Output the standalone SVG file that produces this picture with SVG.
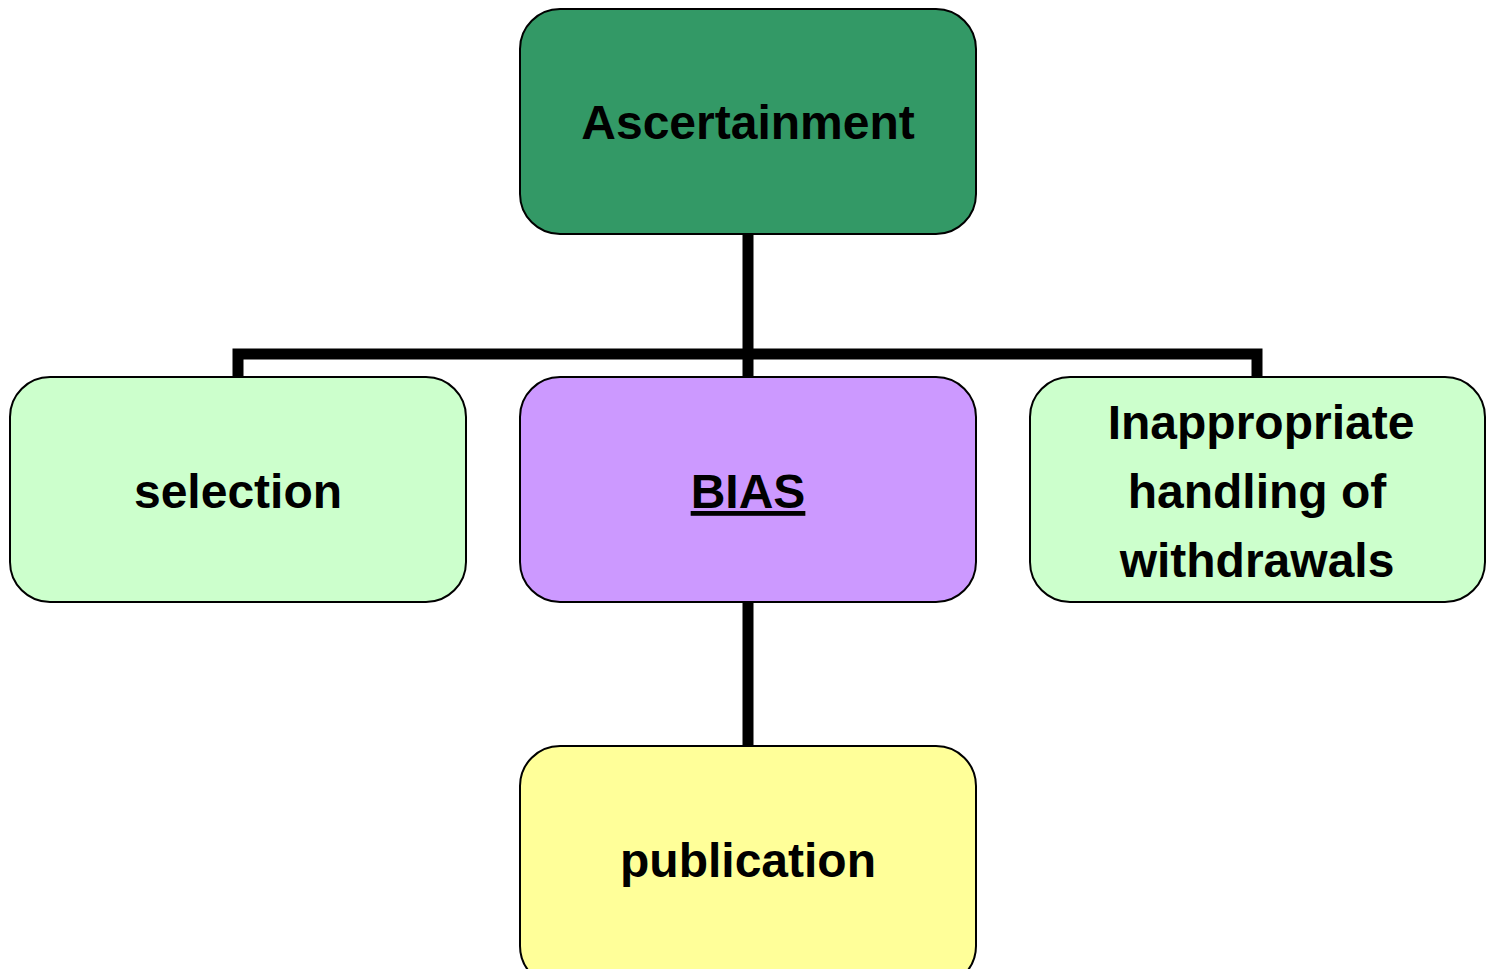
<svg xmlns="http://www.w3.org/2000/svg" width="1495" height="969" viewBox="0 0 1495 969">
<style>
.box{stroke:#000;stroke-width:2}
.lbl{font-family:"Liberation Sans",Arial,sans-serif;font-weight:bold;font-size:48px;fill:#000;text-anchor:middle}
.conn{stroke:#000;stroke-width:11;fill:none;stroke-linecap:butt}
</style>
<rect width="1495" height="969" fill="#fff"/>
<g id="connectors">
<path class="conn" d="M748 234V377"/>
<path class="conn" d="M238 377V354H1257V377"/>
<path class="conn" d="M748 602V746"/>
</g>
<g id="ascertainment">
<rect class="box" x="520" y="9" width="456" height="225" rx="40" fill="#339966"/>
<text class="lbl" x="748" y="139">Ascertainment</text>
</g>
<g id="selection">
<rect class="box" x="10" y="377" width="456" height="225" rx="40" fill="#CCFFCC"/>
<text class="lbl" x="238" y="508">selection</text>
</g>
<g id="bias">
<rect class="box" x="520" y="377" width="456" height="225" rx="40" fill="#CC99FF"/>
<text class="lbl" x="748" y="508" text-decoration="underline">BIAS</text>
</g>
<g id="withdrawals">
<rect class="box" x="1030" y="377" width="455" height="225" rx="40" fill="#CCFFCC"/>
<text class="lbl" x="1261" y="439">Inappropriate</text>
<text class="lbl" x="1257" y="508">handling of</text>
<text class="lbl" x="1257" y="577">withdrawals</text>
</g>
<g id="publication">
<rect class="box" x="520" y="746" width="456" height="240" rx="40" fill="#FFFF99"/>
<text class="lbl" x="748" y="877">publication</text>
</g>
</svg>
